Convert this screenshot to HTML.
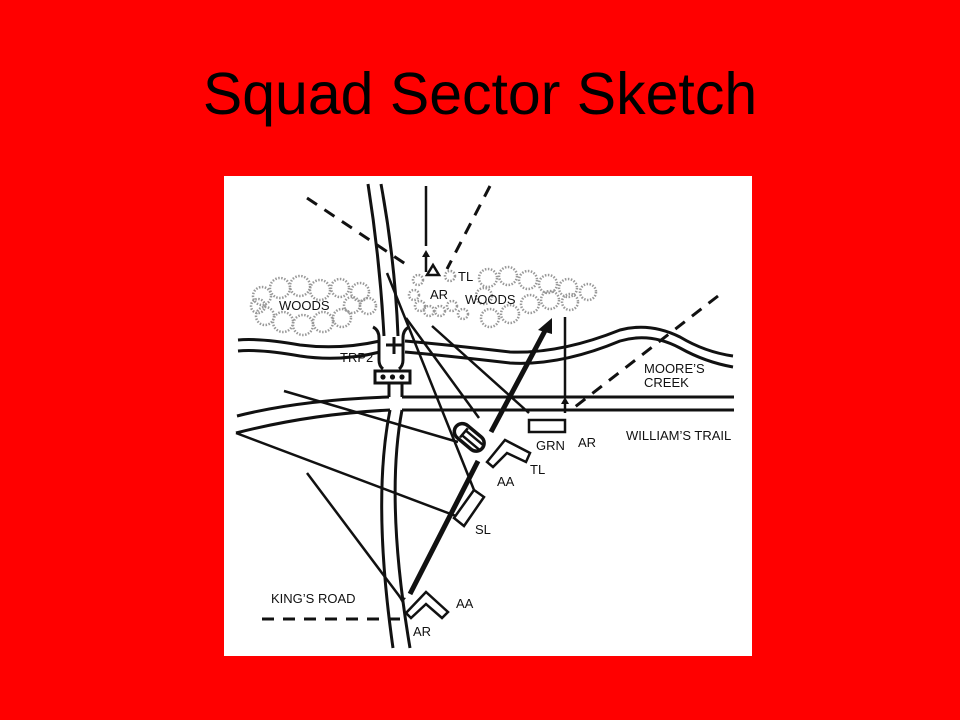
<!DOCTYPE html>
<html><head><meta charset="utf-8"><style>
html,body{margin:0;padding:0;background:#ff0000;width:960px;height:720px;overflow:hidden}
h1{position:absolute;left:0;top:60px;width:960px;text-align:center;margin:0;font:59px "Liberation Sans",sans-serif;color:#000}
svg{position:absolute;left:0;top:0}
text{font-family:"Liberation Sans",sans-serif;font-size:13px;fill:#111}
</style></head><body>
<h1>Squad Sector Sketch</h1>
<svg width="960" height="720" viewBox="0 0 960 720">
<rect x="224" y="176" width="528" height="480" fill="#fff"/>
<g fill="none" stroke="#999" stroke-width="2.5" stroke-dasharray="1.5 1.5">
<circle cx="262" cy="296" r="9"/><circle cx="280" cy="288" r="10"/><circle cx="300" cy="286" r="10"/><circle cx="320" cy="290" r="10"/><circle cx="340" cy="288" r="9"/><circle cx="360" cy="292" r="9"/><circle cx="368" cy="306" r="8"/>
<circle cx="265" cy="316" r="9"/><circle cx="283" cy="322" r="10"/><circle cx="303" cy="325" r="10"/><circle cx="323" cy="322" r="10"/><circle cx="342" cy="318" r="9"/><circle cx="352" cy="305" r="8"/><circle cx="258" cy="306" r="7"/>
<circle cx="418" cy="280" r="5"/><circle cx="414" cy="295" r="5"/><circle cx="420" cy="306" r="5"/><circle cx="429" cy="311" r="5"/><circle cx="440" cy="311" r="5"/><circle cx="452" cy="306" r="5"/><circle cx="463" cy="314" r="5"/><circle cx="450" cy="276" r="5"/>
<circle cx="488" cy="278" r="9"/><circle cx="508" cy="276" r="9"/><circle cx="528" cy="280" r="9"/><circle cx="548" cy="284" r="9"/><circle cx="568" cy="288" r="9"/><circle cx="588" cy="292" r="8"/>
<circle cx="484" cy="296" r="8"/><circle cx="490" cy="318" r="9"/><circle cx="510" cy="314" r="9"/><circle cx="530" cy="304" r="9"/><circle cx="550" cy="300" r="9"/><circle cx="570" cy="302" r="8"/>
</g>
<g fill="none" stroke="#111" stroke-width="3" stroke-linecap="butt">
<path d="M368 184 Q380 260 384 336"/><path d="M381 184 Q395 260 398 336"/>
<path d="M390 410 Q372 500 393 648"/><path d="M402 410 Q385 500 410 648"/>
<path d="M389 383 V397"/><path d="M402 383 V397"/>
<path d="M373 327 Q379 330 379 338 V360 Q379 366 383 369"/><path d="M409 327 Q403 330 403 338 V360 Q403 366 399 369"/>
<path d="M386 345 H402 M394 337 V354"/>
<rect x="375" y="371" width="35" height="12"/>
<path d="M238 340 Q260 338 300 345 Q340 350 380 341"/><path d="M238 351 Q260 349 300 356 Q340 362 380 352"/>
<path d="M405 341 Q450 345 510 352 Q560 354 620 330 Q650 322 680 337 Q705 352 733 356"/>
<path d="M405 352 Q450 356 510 363 Q560 366 620 341 Q650 332 680 348 Q705 362 733 367"/>
<path d="M237 416 Q300 400 389 397"/><path d="M402 397 H734"/>
<path d="M236 433 Q310 414 390 410"/><path d="M402 410 H734"/>
</g>
<g fill="#111"><circle cx="383" cy="377" r="2.6"/><circle cx="392.5" cy="377" r="2.6"/><circle cx="402" cy="377" r="2.6"/></g>
<g fill="none" stroke="#111" stroke-width="2.5">
<path d="M284 391 L458 442"/>
<path d="M236 433 L456 516"/>
<path d="M307 473 L400 597"/>
<path d="M387 273 L474 490"/>
<path d="M406 318 L479 418"/>
<path d="M432 326 L529 413"/>
<path d="M565 317 V396"/>
<path d="M565 413 V402"/>
<path d="M426 186 V246"/>
<path d="M426 272 V256"/>
</g>
<g fill="#111"><path d="M426 250 l-4 7 h8z"/><path d="M565 397 l-4 7 h8z"/><path d="M398 596 l4 7 l4 -5z"/></g>
<g fill="none" stroke="#111" stroke-width="3" stroke-dasharray="12 9">
<path d="M307 198 L407 265"/><path d="M490 186 L447 269"/><path d="M718 296 L571 410"/><path d="M262 619 H406"/>
</g>
<path d="M433 265 L427 275 H439Z" fill="none" stroke="#111" stroke-width="2.5"/>
<g stroke="#111" stroke-width="5" fill="none"><path d="M410 594 L478 461"/><path d="M491 432 L547 327"/></g>
<path d="M552 318 L538 330 L552 334Z" fill="#111"/>
<g fill="#fff" stroke="#111" stroke-width="2.5">
<rect x="529" y="420" width="36" height="12"/>
<path d="M487 462 L505 440 L530 453 L526 462 L507 453 L493 467Z"/>
<path d="M406 613 L426 592 L448 612 L442 618 L426 604 L411 618Z"/>
<path d="M454 518 L474 490 L484 497 L464 526Z"/>
<g transform="translate(470 438) rotate(40)"><rect x="-18" y="-8" width="34" height="16" rx="8" stroke-width="3.5"/><path d="M-8 -3 H14 M-8 3 H14 M-8 -6 V6"/></g>
</g>
<text x="458" y="281">TL</text><text x="430" y="299">AR</text><text x="465" y="304">WOODS</text>
<text x="279" y="310">WOODS</text><text x="340" y="362">TRP2</text>
<text x="644" y="373">MOORE’S</text><text x="644" y="387">CREEK</text>
<text x="626" y="440">WILLIAM’S TRAIL</text>
<text x="536" y="450">GRN</text><text x="578" y="447">AR</text>
<text x="530" y="474">TL</text><text x="497" y="486">AA</text><text x="475" y="534">SL</text>
<text x="271" y="603">KING’S ROAD</text><text x="456" y="608">AA</text><text x="413" y="636">AR</text>
</svg>
</body></html>
